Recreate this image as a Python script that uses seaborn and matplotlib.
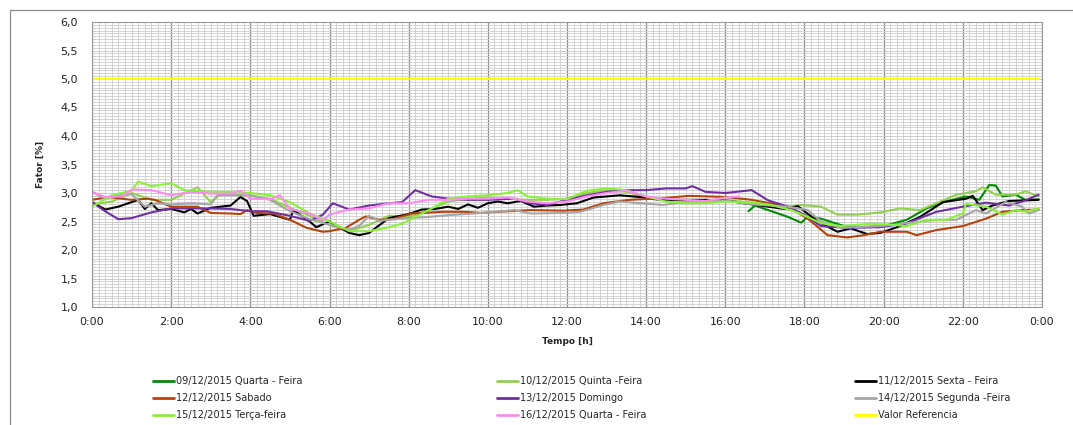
import matplotlib
matplotlib.use("Agg")
import matplotlib.pyplot as plt
import seaborn as sns
import pandas as pd
import numpy as np
from matplotlib.lines import Line2D
from matplotlib.ticker import MultipleLocator

# ---------------- data ----------------
labels = ["09/12/2015 Quarta - Feira", "10/12/2015 Quinta -Feira", "11/12/2015 Sexta - Feira",
          "12/12/2015 Sabado", "13/12/2015 Domingo", "14/12/2015 Segunda -Feira",
          "15/12/2015 Terça-feira", "16/12/2015 Quarta - Feira", "Valor Referencia"]
colors = ["#008A00", "#92D050", "#000000", "#B4440C", "#7030A0", "#A6A6A6",
          "#8AF03A", "#FF8CF0", "#FFFF00"]

t_0912 = ["16:35", "16:45", "17:05", "17:35", "17:55", "18:05", "18:25", "19:00", "19:30", "20:00",
          "20:35", "21:05", "21:30", "22:05", "22:25", "22:40", "22:50", "23:00", "23:20", "23:35", "23:55"]
v_0912 = [2.68, 2.78, 2.70, 2.58, 2.48, 2.58, 2.55, 2.42, 2.40, 2.42,
          2.53, 2.73, 2.84, 2.94, 2.88, 3.14, 3.13, 2.94, 2.97, 2.88, 2.89]

t_1012 = ["0:00", "0:30", "1:00", "1:30", "2:00", "2:40", "3:00", "3:15", "3:30", "4:00", "4:30", "5:00",
          "5:30", "6:00", "6:30", "7:00", "7:30", "8:00", "8:30", "9:00", "9:30", "10:00", "10:30", "11:00",
          "11:30", "12:00", "12:30", "13:00", "13:30", "14:00", "14:30", "15:00", "15:30", "16:00", "16:40",
          "17:35", "17:55", "18:25", "18:50", "19:20", "19:55", "20:25", "20:55", "21:20", "21:50", "22:20",
          "22:30", "22:50", "23:20", "23:35", "23:55"]
v_1012 = [2.80, 2.85, 3.00, 2.88, 2.88, 3.10, 2.84, 2.98, 2.98, 2.95, 2.90, 2.74,
          2.60, 2.44, 2.33, 2.44, 2.60, 2.58, 2.70, 2.85, 2.90, 2.92, 2.90, 2.88,
          2.88, 2.90, 3.00, 3.05, 3.02, 2.92, 2.88, 2.85, 2.85, 2.88, 2.83,
          2.76, 2.79, 2.76, 2.62, 2.62, 2.66, 2.73, 2.70, 2.82, 2.97, 3.03,
          3.10, 2.97, 2.97, 3.03, 2.94]

t_1112 = ["0:00", "0:20", "0:40", "1:00", "1:10", "1:20", "1:30", "1:40", "2:00", "2:20", "2:30", "2:40",
          "3:00", "3:30", "3:45", "3:55", "4:05", "4:30", "5:00", "5:05", "5:30", "5:40", "6:00", "6:30",
          "6:45", "7:00", "7:30", "8:00", "8:20", "8:40", "9:00", "9:15", "9:30", "9:45", "10:00", "10:15",
          "10:30", "10:50", "11:10", "11:30", "11:50", "12:15", "12:40", "13:20", "13:50", "14:20", "15:00",
          "15:30", "16:00", "16:40", "17:30", "17:50", "18:20", "18:50", "19:10", "19:35", "19:55", "20:25",
          "20:55", "21:30", "22:05", "22:15", "22:30", "22:45", "23:10", "23:55"]
v_1112 = [2.84, 2.71, 2.76, 2.84, 2.88, 2.72, 2.82, 2.70, 2.72, 2.66, 2.72, 2.64,
          2.74, 2.78, 2.93, 2.86, 2.60, 2.63, 2.53, 2.70, 2.50, 2.40, 2.50, 2.30,
          2.26, 2.30, 2.56, 2.63, 2.71, 2.72, 2.76, 2.72, 2.80, 2.74, 2.82, 2.85,
          2.82, 2.86, 2.76, 2.78, 2.79, 2.82, 2.92, 2.96, 2.93, 2.88, 2.88,
          2.88, 2.87, 2.80, 2.72, 2.77, 2.50, 2.32, 2.38, 2.28, 2.30, 2.42,
          2.58, 2.84, 2.90, 2.95, 2.70, 2.78, 2.86, 2.88]

t_1212 = ["0:00", "0:25", "1:00", "1:25", "1:35", "2:00", "2:40", "3:00", "3:30", "3:45", "3:55", "4:10",
          "4:35", "5:00", "5:25", "5:50", "6:00", "6:25", "6:45", "6:55", "7:15", "7:35", "8:05", "8:50",
          "9:25", "9:50", "10:15", "11:05", "11:55", "12:25", "12:55", "13:35", "14:25", "15:05", "16:00",
          "16:40", "17:35", "18:05", "18:35", "19:05", "19:30", "19:55", "20:35", "20:50", "21:20", "22:00",
          "22:35", "23:00", "23:30", "23:55"]
v_1212 = [2.88, 2.93, 2.88, 2.90, 2.88, 2.76, 2.76, 2.65, 2.64, 2.63, 2.70, 2.65,
          2.64, 2.53, 2.39, 2.32, 2.33, 2.39, 2.53, 2.59, 2.53, 2.54, 2.64, 2.67,
          2.67, 2.65, 2.67, 2.70, 2.69, 2.71, 2.82, 2.88, 2.91, 2.95, 2.93,
          2.88, 2.76, 2.55, 2.26, 2.22, 2.26, 2.32, 2.32, 2.26, 2.35, 2.42,
          2.55, 2.67, 2.70, 2.71]

t_1312 = ["0:00", "0:20", "0:40", "1:00", "1:30", "2:00", "3:00", "3:30", "4:00", "4:25", "5:00", "5:30",
          "5:50", "6:05", "6:30", "7:00", "7:30", "7:50", "8:10", "8:35", "9:00", "9:30", "10:00", "10:40",
          "11:05", "11:30", "12:00", "12:30", "13:00", "13:30", "14:00", "14:30", "15:00", "15:10", "15:30",
          "16:00", "16:40", "17:05", "17:35", "18:00", "18:25", "19:05", "19:55", "20:35", "21:20", "22:00",
          "22:35", "23:10", "23:30", "23:55"]
v_1312 = [2.84, 2.68, 2.54, 2.56, 2.66, 2.73, 2.73, 2.72, 2.68, 2.68, 2.60, 2.51,
          2.62, 2.82, 2.71, 2.78, 2.82, 2.84, 3.05, 2.94, 2.90, 2.88, 2.88, 2.90,
          2.82, 2.79, 2.88, 2.96, 3.02, 3.05, 3.05, 3.08, 3.08, 3.12, 3.02,
          3.00, 3.05, 2.87, 2.76, 2.62, 2.42, 2.39, 2.40, 2.47, 2.67, 2.76,
          2.83, 2.78, 2.85, 2.97]

t_1412 = ["0:00", "0:20", "0:40", "1:00", "1:20", "1:40", "2:00", "2:30", "3:00", "3:10", "3:30", "4:00",
          "4:30", "5:00", "5:30", "6:00", "6:30", "6:45", "7:00", "7:15", "7:30", "8:00", "8:30", "9:00",
          "9:50", "10:40", "11:05", "11:55", "12:20", "12:55", "13:20", "14:25", "15:05", "16:00", "16:40",
          "17:35", "18:05", "18:25", "18:55", "19:55", "20:35", "21:20", "21:50", "22:20", "22:35", "23:05",
          "23:30", "23:40", "23:55"]
v_1412 = [3.02, 2.90, 2.96, 2.98, 2.76, 2.82, 2.80, 2.82, 2.80, 2.96, 2.96, 2.96,
          2.88, 2.68, 2.54, 2.44, 2.36, 2.42, 2.60, 2.51, 2.53, 2.56, 2.58, 2.61,
          2.65, 2.70, 2.64, 2.65, 2.67, 2.79, 2.85, 2.79, 2.85, 2.87, 2.80,
          2.76, 2.70, 2.50, 2.39, 2.42, 2.47, 2.53, 2.53, 2.70, 2.64, 2.84,
          2.76, 2.64, 2.70]

t_1512 = ["0:00", "0:30", "1:00", "1:10", "1:30", "2:00", "2:20", "3:00", "3:30", "4:00", "4:30", "5:00",
          "5:30", "6:00", "6:30", "7:00", "7:30", "7:50", "8:20", "8:40", "9:00", "9:30", "10:00", "10:30",
          "10:45", "11:00", "11:30", "12:00", "12:30", "13:00", "13:30", "14:00", "14:30", "15:00", "15:30",
          "16:00", "16:40", "17:05", "17:40", "18:05", "18:25", "18:55", "19:40", "20:05", "20:35", "21:05",
          "21:35", "22:00", "22:05", "22:35", "23:00", "23:20", "23:35", "23:55"]
v_1512 = [2.76, 2.96, 3.04, 3.20, 3.12, 3.17, 3.05, 3.02, 3.02, 3.00, 2.96, 2.84,
          2.64, 2.50, 2.33, 2.33, 2.40, 2.46, 2.64, 2.76, 2.90, 2.94, 2.96, 3.00,
          3.05, 2.94, 2.90, 2.89, 3.04, 3.08, 3.05, 2.94, 2.85, 2.82, 2.82,
          2.85, 2.83, 2.80, 2.70, 2.58, 2.47, 2.42, 2.46, 2.45, 2.42, 2.53,
          2.53, 2.64, 2.81, 2.76, 2.62, 2.70, 2.67, 2.73]

t_1612 = ["0:00", "0:20", "0:45", "1:00", "1:30", "2:00", "2:30", "3:00", "3:30", "3:45", "4:00", "4:30",
          "4:45", "5:00", "5:30", "5:50", "6:00", "6:30", "7:00", "7:30", "8:00", "8:30", "9:00", "9:30",
          "10:00", "10:30", "11:00", "11:30", "12:00", "12:30", "13:00", "13:30", "14:00", "14:30", "15:00",
          "15:30", "16:00", "16:20"]
v_1612 = [3.02, 2.93, 2.94, 3.06, 3.05, 2.96, 3.02, 2.99, 2.99, 3.04, 2.90, 2.89,
          2.96, 2.72, 2.64, 2.52, 2.62, 2.71, 2.73, 2.82, 2.82, 2.88, 2.88, 2.90,
          2.90, 2.92, 2.85, 2.82, 2.85, 2.94, 3.00, 3.04, 2.94, 2.90, 2.88,
          2.86, 2.92, 2.94]

t_ref = ["0:00", "23:55"]
v_ref = [5.0, 5.0]

x_ticks = [0, 2, 4, 6, 8, 10, 12, 14, 16, 18, 20, 22, 24]
x_tick_labels = ["0:00", "2:00", "4:00", "6:00", "8:00", "10:00", "12:00", "14:00",
                 "16:00", "18:00", "20:00", "22:00", "0:00"]
y_ticks = [1.0, 1.5, 2.0, 2.5, 3.0, 3.5, 4.0, 4.5, 5.0, 5.5, 6.0]


def to_h(s):
    h, m = s.split(":")
    return int(h) + int(m) / 60.0


series = [(t_0912, v_0912), (t_1012, v_1012), (t_1112, v_1112), (t_1212, v_1212),
          (t_1312, v_1312), (t_1412, v_1412), (t_1512, v_1512), (t_1612, v_1612),
          (t_ref, v_ref)]
frames = []
for lab, (tt, vv) in zip(labels, series):
    frames.append(pd.DataFrame({"hora": [to_h(s) for s in tt], "valor": vv, "serie": lab}))
df = pd.concat(frames, ignore_index=True)

# ---------------- figure ----------------
sns.set_theme(style="white")
plt.rcParams["font.family"] = ["DejaVu Sans"]

W, H = 1073, 425
fig = plt.figure(figsize=(W / 100, H / 100), dpi=100)
fig.patch.set_facecolor("white")
L, R, T, B = 92, 1042, 22, 307
ax = fig.add_axes([L / W, 1 - B / H, (R - L) / W, (B - T) / H])
ax.set_facecolor("white")

sns.lineplot(data=df, x="hora", y="valor", hue="serie", hue_order=labels,
             palette=dict(zip(labels, colors)), estimator=None, sort=False,
             linewidth=1.5, legend=False, ax=ax)

ax.set_xlim(0, 24)
ax.set_ylim(1.0, 6.0)
ax.set_xticks(x_ticks)
ax.set_xticklabels(x_tick_labels, fontsize=8, color="#222222")
ax.set_yticks(y_ticks)
ax.set_yticklabels([f"{v:.1f}".replace(".", ",") for v in y_ticks], fontsize=8, color="#222222")
ax.xaxis.set_minor_locator(MultipleLocator(1 / 6))
ax.yaxis.set_minor_locator(MultipleLocator(0.05))
ax.tick_params(axis="both", which="both", length=0)
ax.tick_params(axis="x", pad=7.5)
ax.tick_params(axis="y", pad=10)
ax.grid(which="minor", color="#CDCDCD", linewidth=0.6)
ax.grid(which="major", axis="y", color="#C4C4C4", linewidth=0.6)
ax.grid(which="major", axis="x", color="#8A8A8A", linewidth=0.9)
ax.set_axisbelow(True)
for sp in ax.spines.values():
    sp.set_visible(True)
    sp.set_color("#9A9A9A")
    sp.set_linewidth(0.8)

ax.set_xlabel("Tempo [h]", fontsize=6.5, fontweight="bold", labelpad=7)
ax.set_ylabel("Fator [%]", fontsize=6.5, fontweight="bold", labelpad=11)

# chart-area border (top and left visible)
fig.add_artist(Line2D([10 / W, 1.0], [1 - 10 / H, 1 - 10 / H], transform=fig.transFigure,
                      color="#8C8C8C", linewidth=0.9))
fig.add_artist(Line2D([10 / W, 10 / W], [0.0, 1 - 10 / H], transform=fig.transFigure,
                      color="#8C8C8C", linewidth=0.9))

# legend: three columns placed like the reference
col_x = [153, 497, 855]
for c in range(3):
    idx = [c, c + 3, c + 6]
    handles = [Line2D([], [], color=colors[i], linewidth=2.0) for i in idx]
    leg = fig.legend(handles, [labels[i] for i in idx], loc="upper left",
                     bbox_to_anchor=(col_x[c] / W, 1 - 376 / H), frameon=False,
                     fontsize=7, handlelength=2.2, handletextpad=0.2,
                     labelspacing=0.72, borderpad=0, borderaxespad=0)

fig.savefig("out.png", dpi=100, facecolor="white")
